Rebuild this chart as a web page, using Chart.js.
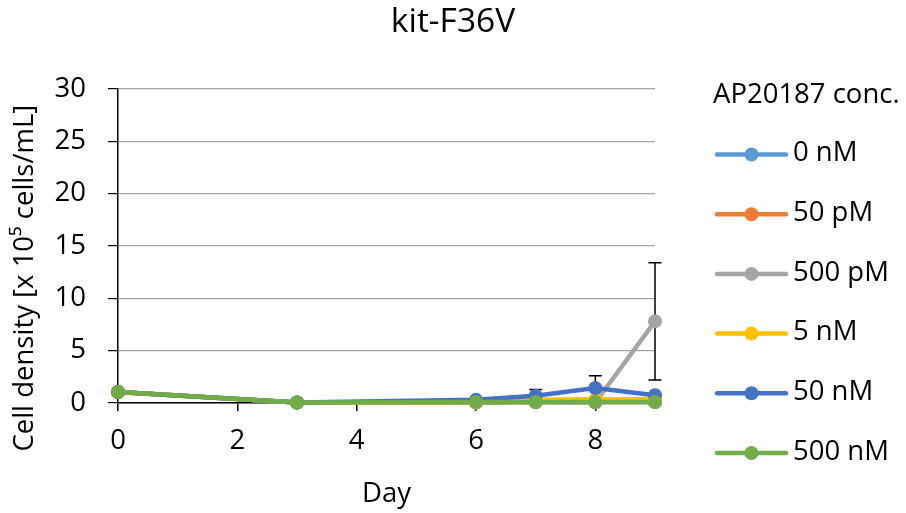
<!DOCTYPE html>
<html>
<head>
<meta charset="utf-8">
<script src="https://cdn.jsdelivr.net/npm/chart.js@4.4.1/dist/chart.umd.min.js"></script>
<style>
  html, body { margin: 0; padding: 0; background: #ffffff; }
  #wrap { width: 906px; height: 513px; position: relative; }
</style>
</head>
<body>
<div id="wrap"><canvas id="c" width="906" height="513"></canvas></div>
<script>
// ---- data ----
const days = [0, 3, 6, 7, 8, 9];
const seriesLabels = ['0 nM', '50 pM', '500 pM', '5 nM', '50 nM', '500 nM'];
const seriesColors = ['#5B9BD5', '#ED7D31', '#A5A5A5', '#FFC000', '#4472C4', '#70AD47'];
const val0nM   = [1.05, 0.05, 0.05, 0.1, 0.1, 0.1];
const val50pM  = [1.05, 0.05, 0.05, 0.1, 0.1, 0.1];
const val500pM = [1.05, 0.05, 0.05, 0.1, 0.05, 7.8];
const val5nM   = [1.05, 0.05, 0.1, 0.3, 0.35, 0.35];
const val50nM  = [1.05, 0.05, 0.3, 0.7, 1.43, 0.75];
const val500nM = [1.05, 0.05, 0.1, 0.1, 0.1, 0.1];
const err0nM   = [0, 0, 0, 0, 0, 0];
const err50pM  = [0, 0, 0, 0, 0, 0];
const err500pM = [0, 0, 0, 0, 0, 5.6];
const err5nM   = [0, 0, 0, 0, 0, 0];
const err50nM  = [0, 0, 0, 0.6, 1.17, 0];
const err500nM = [0, 0, 0, 0, 0, 0];
const yTicks = [0, 5, 10, 15, 20, 25, 30];
const xTicks = [0, 2, 4, 6, 8];

const allVals = [val0nM, val50pM, val500pM, val5nM, val50nM, val500nM];
const allErrs = [err0nM, err50pM, err500pM, err5nM, err50nM, err500nM];

const FONT = "'Open Sans', 'DejaVu Sans', sans-serif";
const FS = 27.5;

const datasets = seriesLabels.map((lab, i) => ({
  label: lab,
  yAxisID: 'y',
  data: days.map((d, k) => ({ x: d, y: allVals[i][k] })),
  errors: allErrs[i],
  borderColor: seriesColors[i],
  backgroundColor: seriesColors[i],
  pointBackgroundColor: seriesColors[i],
  pointBorderColor: seriesColors[i],
  borderWidth: 4.5,
  pointRadius: 7,
  pointHoverRadius: 7,
  pointBorderWidth: 0,
  tension: 0,
  order: seriesLabels.length - i,
  clip: false
}));

const errorBarPlugin = {
  id: 'errorBars',
  beforeDatasetsDraw(chart) {
    const ctx = chart.ctx;
    const xs = chart.scales.x, ys = chart.scales.y;
    ctx.save();
    ctx.strokeStyle = '#000000';
    ctx.lineWidth = 1.5;
    chart.data.datasets.forEach(ds => {
      ds.data.forEach((p, k) => {
        const e = ds.errors[k];
        if (!e) return;
        const x = xs.getPixelForValue(p.x);
        const yt = ys.getPixelForValue(p.y + e);
        const yb = ys.getPixelForValue(Math.max(p.y - e, 0));
        ctx.beginPath();
        ctx.moveTo(x, yt); ctx.lineTo(x, yb);
        ctx.moveTo(x - 6.5, yt); ctx.lineTo(x + 6.5, yt);
        if (p.y - e > 0) { ctx.moveTo(x - 6.5, yb); ctx.lineTo(x + 6.5, yb); }
        ctx.stroke();
      });
    });
    ctx.restore();
  }
};

const legendPlugin = {
  id: 'sideLegend',
  afterDraw(chart) {
    const ctx = chart.ctx;
    const left = chart.chartArea.right + 58;
    ctx.save();
    ctx.fillStyle = '#000000';
    ctx.font = FS + "px " + FONT;
    ctx.textAlign = 'left';
    ctx.textBaseline = 'middle';
    ctx.fillText('AP20187 conc.', left, 95);
    chart.data.datasets.forEach((ds, i) => {
      const y = 154.5 + i * 59.7;
      ctx.strokeStyle = ds.borderColor;
      ctx.lineWidth = 4.5;
      ctx.lineCap = 'round';
      ctx.beginPath();
      ctx.moveTo(left + 4, y); ctx.lineTo(left + 73, y);
      ctx.stroke();
      ctx.fillStyle = ds.borderColor;
      ctx.beginPath();
      ctx.arc(left + 38.5, y, 7, 0, Math.PI * 2);
      ctx.fill();
      ctx.fillStyle = '#000000';
      ctx.fillText(ds.label, left + 80, y - 1);
    });
    ctx.restore();
  }
};

new Chart(document.getElementById('c'), {
  type: 'line',
  data: { datasets },
  options: {
    responsive: false,
    animation: false,
    devicePixelRatio: 1,
    layout: { padding: { left: 0, right: 0, top: 0, bottom: 0 } },
    plugins: {
      legend: { display: false },
      tooltip: { enabled: false },
      title: {
        display: true,
        text: 'kit-F36V',
        color: '#000000',
        font: { family: FONT, size: 33.5, weight: 'normal' },
        padding: { top: 2, bottom: 46.8 }
      }
    },
    scales: {
      x: {
        type: 'linear',
        min: 0, max: 9,
        afterBuildTicks: (s) => { s.ticks = xTicks.map(v => ({ value: v })); },
        afterFit: (s) => { s.height = 110; },
        grid: { display: true, drawOnChartArea: false, drawTicks: true, tickLength: 8, color: '#000000', tickColor: '#000000', lineWidth: 1.5 },
        border: { display: true, color: '#000000', width: 1.5 },
        ticks: { color: '#000000', font: { family: FONT, size: FS }, padding: 14, maxRotation: 0 },
        title: { display: true, text: 'Day', color: '#000000', font: { family: FONT, size: FS }, padding: { top: 0, bottom: 2 } }
      },
      y: {
        type: 'linear',
        position: 'left',
        min: 0, max: 30,
        afterBuildTicks: (s) => { s.ticks = yTicks.map(v => ({ value: v })); },
        afterFit: (s) => { s.width = 118; },
        grid: { display: true, drawOnChartArea: true, drawTicks: true, tickLength: 10, color: '#A6A6A6', tickColor: '#000000', lineWidth: 1.2 },
        border: { display: true, color: '#000000', width: 1.5 },
        ticks: { color: '#000000', font: { family: FONT, size: FS }, padding: 22 },
        title: { display: true, text: 'Cell density [x 10⁵ cells/mL]         ', color: '#000000', font: { family: FONT, size: FS }, padding: { top: 9, bottom: 0 } }
      },
      legendSpace: {
        type: 'linear',
        position: 'right',
        display: true,
        afterFit: (s) => { s.width = 251; },
        grid: { display: false, drawTicks: false },
        border: { display: false },
        ticks: { display: false }
      }
    }
  },
  plugins: [errorBarPlugin, legendPlugin]
});
</script>
</body>
</html>
